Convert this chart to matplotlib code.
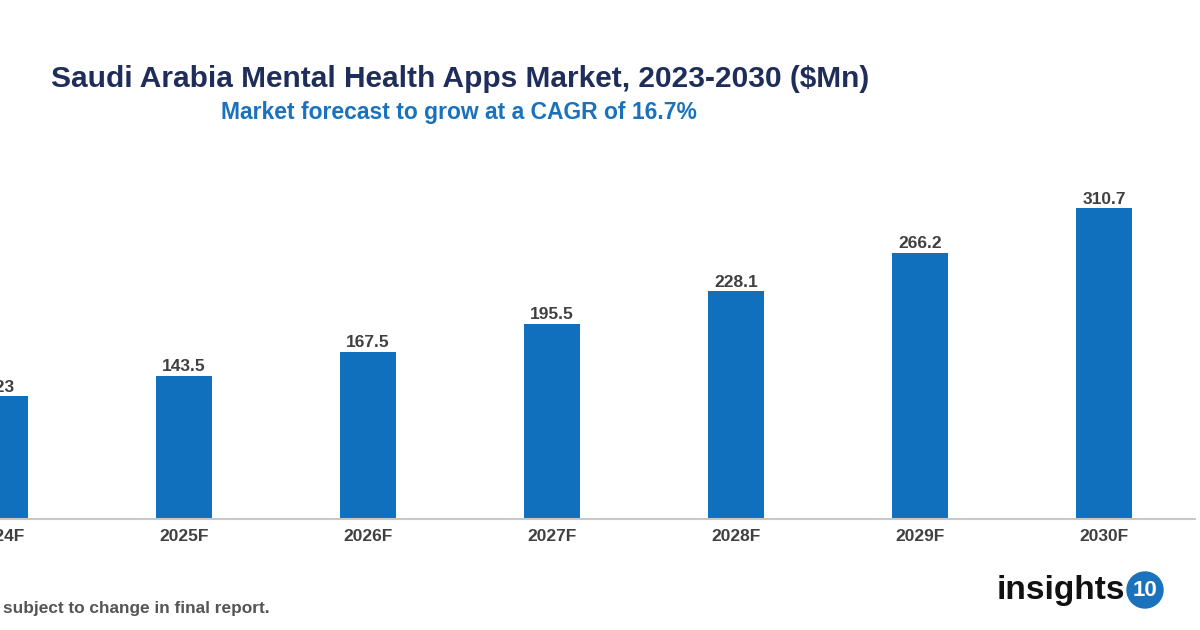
import matplotlib
matplotlib.use("Agg")
import matplotlib.pyplot as plt
from matplotlib.patches import Circle

plt.rcParams['font.family'] = ['Liberation Sans', 'DejaVu Sans']

# data (2023 is estimated, it sits outside the visible crop)
years = ['2023', '2024F', '2025F', '2026F', '2027F', '2028F', '2029F', '2030F']
market = [105.4, 123, 143.5, 167.5, 195.5, 228.1, 266.2, 310.7]
labels = ['105.4', '123', '143.5', '167.5', '195.5', '228.1', '266.2', '310.7']

barColor = '#1170be'
textGrey = '#404040'

fig = plt.figure(figsize=(12, 6.3), dpi=100)
# axes starts at the 2024F bar centre, so the left part of the chart is cut off like the reference
ax = fig.add_axes([0, 111 / 630, 1195 / 1200, 400 / 630])

xs = list(range(len(years)))
ax.bar(xs, market, width=0.30, color=barColor, clip_on=False)

for x, v, lab in zip(xs, market, labels):
    ax.annotate(lab, (x, v), xytext=(0, 1), textcoords='offset points',
                ha='center', va='bottom', fontsize=12.5, fontweight='bold',
                color=textGrey, annotation_clip=False)

ax.set_xticks(xs)
ax.set_xticklabels(years, fontsize=12.5, fontweight='bold', color=textGrey)
ax.tick_params(axis='x', length=0, pad=7)
ax.set_yticks([])
ax.set_xlim(1, 1 + 1195 / 184)
ax.set_ylim(0, 400)
for s in ['top', 'left', 'right']:
    ax.spines[s].set_visible(False)
ax.spines['bottom'].set_color('#c8c8c8')
ax.spines['bottom'].set_linewidth(1.5)

# titles
fig.text(460 / 1200, 1 - 79 / 630, 'Saudi Arabia Mental Health Apps Market, 2023-2030 ($Mn)',
         ha='center', va='center', fontsize=21.5, fontweight='bold', color='#1f2d5a')
fig.text(459 / 1200, 1 - 113 / 630, 'Market forecast to grow at a CAGR of 16.7%',
         ha='center', va='center', fontsize=16.5, fontweight='bold', color='#1a72bd')

# footnote
fig.text(3 / 1200, 1 - 608 / 630, 'subject to change in final report.',
         ha='left', va='center', fontsize=12.4, fontweight='bold', color='#555555')

# logo
fig.text(997 / 1200, 1 - 590 / 630, 'insights', ha='left', va='center',
         fontsize=24, fontweight='bold', color='#111111')
fig.patches.append(Circle((11.45, 0.40), 0.18, transform=fig.dpi_scale_trans,
                          color='#1a72bd', zorder=3))
fig.text(1145 / 1200, 1 - 590 / 630, '10', ha='center', va='center',
         fontsize=16, fontweight='bold', color='white', zorder=4)

fig.savefig('out.png', dpi=100)
